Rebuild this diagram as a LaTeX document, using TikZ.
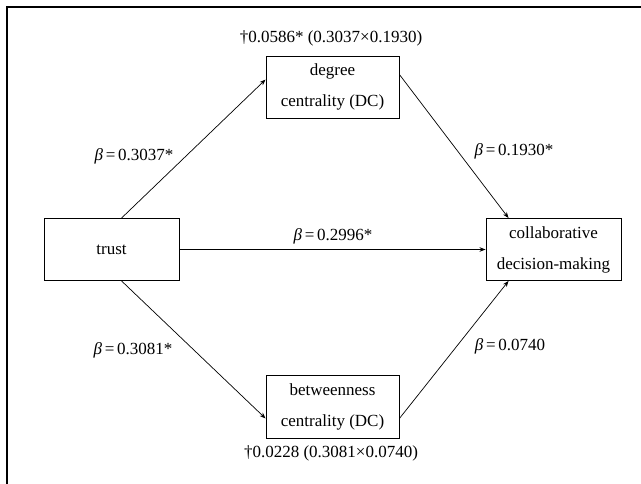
\documentclass[tikz,border=0pt]{standalone}
\usepackage{fontspec}
\setmainfont{Liberation Serif}
\usetikzlibrary{arrows.meta}
\begin{document}
\begin{tikzpicture}[x=1pt,y=-1pt,
  box/.style={draw,line width=0.9pt,align=center,inner sep=0pt,
    font=\fontsize{17}{31}\selectfont},
  lbl/.style={inner sep=0pt,font=\fontsize{17}{20}\selectfont},
  arr/.style={line width=0.7pt,-{Stealth[length=6pt,width=4.5pt]}}]
\useasboundingbox (0,0) rectangle (641,484);
\draw[line width=2pt] (7,484) -- (7,7) -- (641,7);
\node[box,minimum width=135pt,minimum height=62pt] (trust) at (111.5,249.5) {trust};
\node[box,minimum width=133pt,minimum height=62pt] (dc) at (332.5,87) {degree\\centrality (DC)};
\node[box,minimum width=133pt,minimum height=63pt] (bc) at (332.5,406.5) {betweenness\\centrality (DC)};
\node[box,minimum width=135pt,minimum height=62pt] (cdm) at (553.5,249.5) {collaborative\\decision-making};
\draw[arr] ([xshift=78pt]trust.north west) -- ([yshift=-24pt]dc.north west);
\draw[arr] ([yshift=-19pt]dc.north east) -- ([xshift=23pt]cdm.north west);
\draw[arr] (trust.east) -- (cdm.west);
\draw[arr] ([xshift=78pt]trust.south west) -- ([yshift=20pt]bc.south west);
\draw[arr] ([yshift=20pt]bc.south east) -- ([xshift=23pt]cdm.south west);
\node[lbl] (ldc) at (331,38) {†0.0586* (0.3037×0.1930)};
\node[lbl] (lbc) at (331,453) {†0.0228 (0.3081×0.0740)};
\node[lbl] (b1) at (134,156) {\textit{β}\,=\,0.3037*};
\node[lbl] (b2) at (514,151) {\textit{β}\,=\,0.1930*};
\node[lbl] (b3) at (333,236) {\textit{β}\,=\,0.2996*};
\node[lbl] (b4) at (133,350) {\textit{β}\,=\,0.3081*};
\node[lbl] (b5) at (510,346) {\textit{β}\,=\,0.0740};
\end{tikzpicture}
\end{document}
